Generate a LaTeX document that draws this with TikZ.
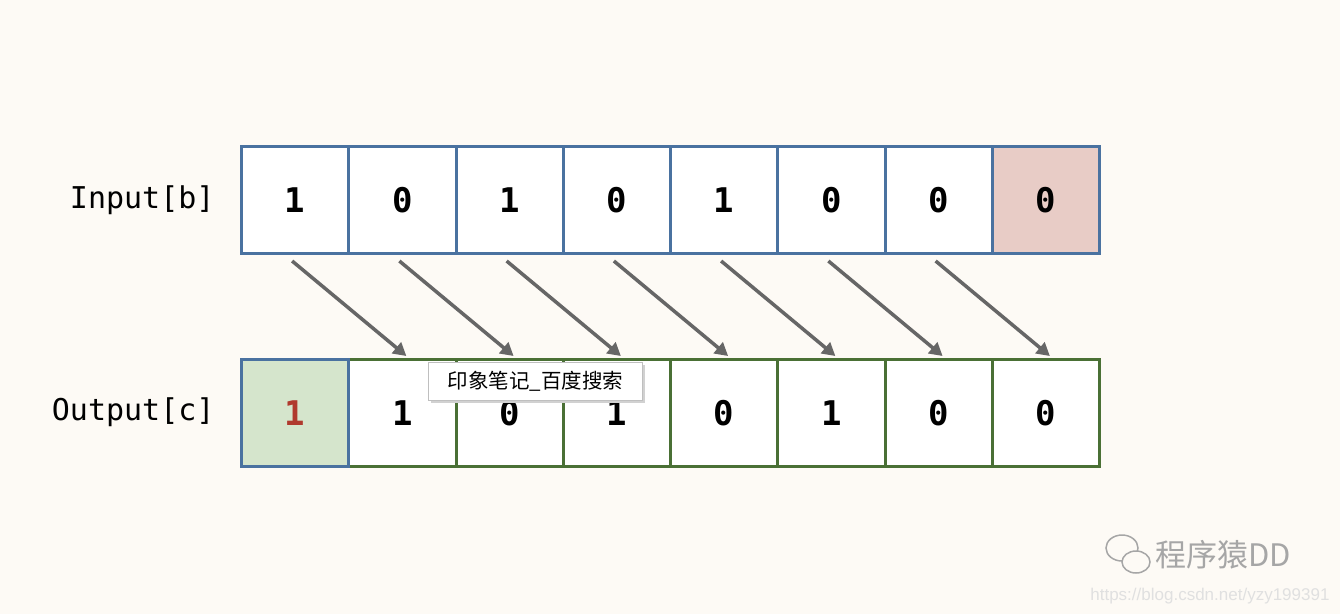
\documentclass[tikz,border=0pt]{standalone}
\usepackage{fontspec}
\setmonofont{DejaVu Sans Mono}
\newfontfamily\cjk{Noto Sans CJK SC}
\setsansfont{Liberation Sans}
\usetikzlibrary{arrows.meta}
\definecolor{bg}{HTML}{FDFAF5}
\definecolor{inb}{HTML}{4A72A0}
\definecolor{outg}{HTML}{4A7035}
\definecolor{pinkf}{HTML}{E8CCC6}
\definecolor{greenf}{HTML}{D5E5CC}
\definecolor{redt}{HTML}{B03A2E}
\definecolor{arr}{HTML}{666666}
\tikzset{
 cell/.style={draw=inb,line width=3pt,fill=white,minimum width=107.25pt,minimum height=107pt,inner sep=0pt,anchor=north west,font=\fontsize{34}{34}\ttfamily\bfseries},
 ocell/.style={cell,draw=outg},
 lab/.style={anchor=east,font=\fontsize{30}{30}\ttfamily},
 arrw/.style={draw=arr,line width=3.5pt,-{Triangle[length=13pt,width=14pt]}}
}
\begin{document}
\begin{tikzpicture}[x=1pt,y=-1pt]
\fill[bg] (0,0) rectangle (1340,614);
\useasboundingbox (0,0) rectangle (1340,614);
\node[lab] (li) at (218,200) {Input[b]};
\node[lab] (lo) at (218,412) {Output[c]};
\foreach \v [count=\i from 0] in {1,0,1,0,1,0,0,0}{
  \node[cell] (i\i) at ({240+107.25*\i},145) {\v};
}
\node[cell,fill=pinkf] at (i7.north west) {0};
\foreach \v [count=\i from 0] in {1,1,0,1,0,1,0,0}{
  \node[ocell] (o\i) at ({240+107.25*\i},358) {\v};
}
\node[cell,fill=greenf,text=redt] at (o0.north west) {1};
\foreach \i [evaluate=\i as \j using int(\i+1)] in {0,...,6}{
  \draw[arrw] ([xshift=-3pt,yshift=-6pt]i\i.south) -- ([xshift=4pt,yshift=2pt]o\j.north);
}
\fill[black!18] (431,365) rectangle (645,403);
\node[draw=black!25,fill=white,line width=0.8pt,minimum width=214pt,minimum height=38pt,anchor=north west,inner sep=0pt,font=\cjk\fontsize{20.5}{20.5}\selectfont] (tip) at (428,362) {印象笔记\_百度搜索};
\node[anchor=west,text=black!35,font=\cjk\fontsize{31}{31}\selectfont] (wm) at (1152,555) {程序猿DD};
\node[anchor=east,text=black!12,font=\sffamily\fontsize{17}{17}\selectfont] (url) at (1333,596) {https://blog.csdn.net/yzy199391};
\draw[black!35,line width=1.5pt] (1122,548) ellipse (16pt and 13pt);
\draw[black!35,line width=1.5pt,fill=bg] (1136,562) ellipse (14pt and 11pt);
\end{tikzpicture}
\end{document}
